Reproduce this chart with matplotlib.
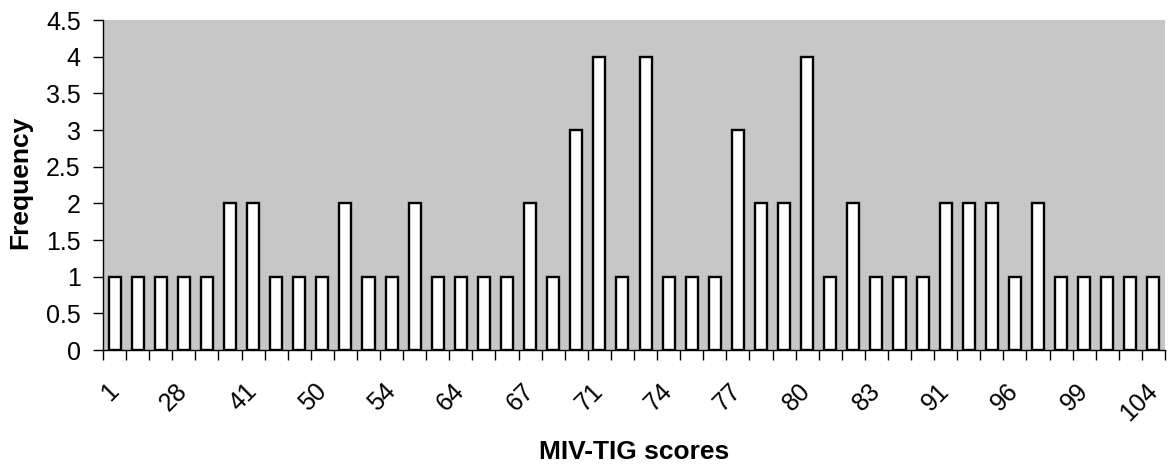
import matplotlib
matplotlib.use("Agg")
import matplotlib.pyplot as plt
import numpy as np

plt.rcParams['font.family'] = ['Liberation Sans', 'DejaVu Sans']

# MIV-TIG score categories (only every third label is shown in the chart)
scores = [1, 15, 22, 28, 33, 37, 41, 44, 47, 50, 52, 53, 54, 58, 61, 64,
          65, 66, 67, 69, 70, 71, 72, 73, 74, 75, 76, 77, 78, 79, 80, 81,
          82, 83, 86, 89, 91, 93, 95, 96, 97, 98, 99, 101, 103, 104]
frequency = [1, 1, 1, 1, 1, 2, 2, 1, 1, 1, 2, 1, 1, 2, 1, 1,
             1, 1, 2, 1, 3, 4, 1, 4, 1, 1, 1, 3, 2, 2, 4, 1,
             2, 1, 1, 1, 2, 2, 2, 1, 2, 1, 1, 1, 1, 1]
yticks = [0, 0.5, 1, 1.5, 2, 2.5, 3, 3.5, 4, 4.5]
ytick_labels = ['0', '0.5', '1', '1.5', '2', '2.5', '3', '3.5', '4', '4.5']

W, H = 1172, 467
fig = plt.figure(figsize=(W / 100, H / 100), dpi=100)
ax = fig.add_axes([103 / W, (H - 350) / H, (1165 - 103) / W, (350 - 20) / H])
ax.set_facecolor('#c7c7c7')

x = np.arange(len(scores))
ax.bar(x, frequency, width=0.52, color='white', edgecolor='black', linewidth=1.7, zorder=3)

ax.set_xlim(-0.5, len(scores) - 0.5)
ax.set_ylim(0, 4.5)
ax.set_yticks(yticks)
ax.set_yticklabels(ytick_labels, fontsize=18)
ax.tick_params(axis='y', length=7, width=1, direction='out', pad=9)

# category boundary ticks
ax.set_xticks(np.arange(len(scores) + 1) - 0.5)
ax.set_xticklabels([])
ax.tick_params(axis='x', which='major', length=7, width=1, direction='out')
# category labels (every third)
ax.set_xticks(x[::3], minor=True)
ax.set_xticklabels([str(s) for s in scores[::3]], minor=True, fontsize=18,
                   rotation=45, ha='right', va='center', rotation_mode='anchor')
ax.tick_params(axis='x', which='minor', length=0, pad=27)

for s in ['top', 'right']:
    ax.spines[s].set_visible(False)
for s in ['left', 'bottom']:
    ax.spines[s].set_color('black')
    ax.spines[s].set_linewidth(1)

ax.set_xlabel('MIV-TIG scores', fontsize=19, fontweight='bold')
ax.xaxis.set_label_coords(0.5, (350 - 452) / 330)
ax.xaxis.label.set_va('center')
ax.set_ylabel('Frequency', fontsize=19, fontweight='bold')
ax.yaxis.set_label_coords((20 - 103) / 1062, (350 - 182) / 330)
ax.yaxis.label.set_va('center')

fig.savefig('out.png', dpi=100)
